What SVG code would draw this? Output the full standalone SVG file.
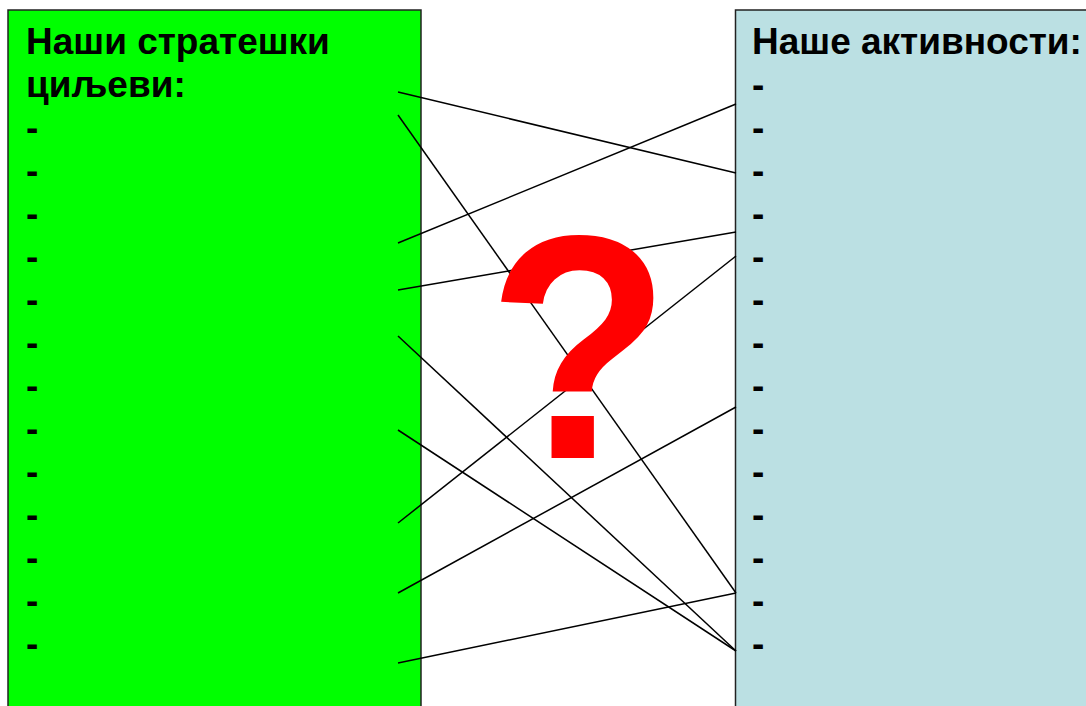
<svg xmlns="http://www.w3.org/2000/svg" width="1086" height="706" viewBox="0 0 1086 706">
<style>
.box{stroke:#222;stroke-width:1.5}
.t{font-family:"Liberation Sans",Arial,sans-serif;font-weight:bold;font-size:37px;fill:#000}
.c line{stroke:#000;stroke-width:1.5}
.q{font-family:"Liberation Sans",Arial,sans-serif;font-weight:bold;font-size:300px;fill:#FF0000}
</style>
<rect width="1086" height="706" fill="#fff"/>
<g id="goals">
<rect class="box" x="8" y="10" width="413" height="720" fill="#00FF00"/>
<text class="t" x="26" y="53.5">Наши стратешки</text>
<text class="t" x="26" y="96.5">циљеви:</text>
<text class="t" x="26" y="139.5">-</text>
<text class="t" x="26" y="182.5">-</text>
<text class="t" x="26" y="225.5">-</text>
<text class="t" x="26" y="268.5">-</text>
<text class="t" x="26" y="311.5">-</text>
<text class="t" x="26" y="354.5">-</text>
<text class="t" x="26" y="397.5">-</text>
<text class="t" x="26" y="440.5">-</text>
<text class="t" x="26" y="483.5">-</text>
<text class="t" x="26" y="526.5">-</text>
<text class="t" x="26" y="569.5">-</text>
<text class="t" x="26" y="612.5">-</text>
<text class="t" x="26" y="655.5">-</text>
</g>
<g id="activities">
<rect class="box" x="735.5" y="10" width="400" height="720" fill="#BBE0E3"/>
<text class="t" x="752" y="53.5">Наше активности:</text>
<text class="t" x="752" y="96.5">-</text>
<text class="t" x="752" y="139.5">-</text>
<text class="t" x="752" y="182.5">-</text>
<text class="t" x="752" y="225.5">-</text>
<text class="t" x="752" y="268.5">-</text>
<text class="t" x="752" y="311.5">-</text>
<text class="t" x="752" y="354.5">-</text>
<text class="t" x="752" y="397.5">-</text>
<text class="t" x="752" y="440.5">-</text>
<text class="t" x="752" y="483.5">-</text>
<text class="t" x="752" y="526.5">-</text>
<text class="t" x="752" y="569.5">-</text>
<text class="t" x="752" y="612.5">-</text>
<text class="t" x="752" y="655.5">-</text>
</g>
<g id="connectors" class="c">
<line x1="398" y1="92" x2="736" y2="173"/>
<line x1="398" y1="115" x2="736" y2="593"/>
<line x1="398" y1="243" x2="736" y2="104"/>
<line x1="398" y1="290" x2="736" y2="232"/>
<line x1="398" y1="336" x2="736" y2="651"/>
<line x1="398" y1="523" x2="736" y2="256"/>
<line x1="398" y1="430" x2="736" y2="651"/>
<line x1="398" y1="593" x2="736" y2="407"/>
<line x1="398" y1="663" x2="736" y2="593"/>
</g>
<g id="question">
<text class="q" transform="translate(579,458) scale(1,1.065)" x="0" y="0" text-anchor="middle">?</text>
</g>
</svg>
